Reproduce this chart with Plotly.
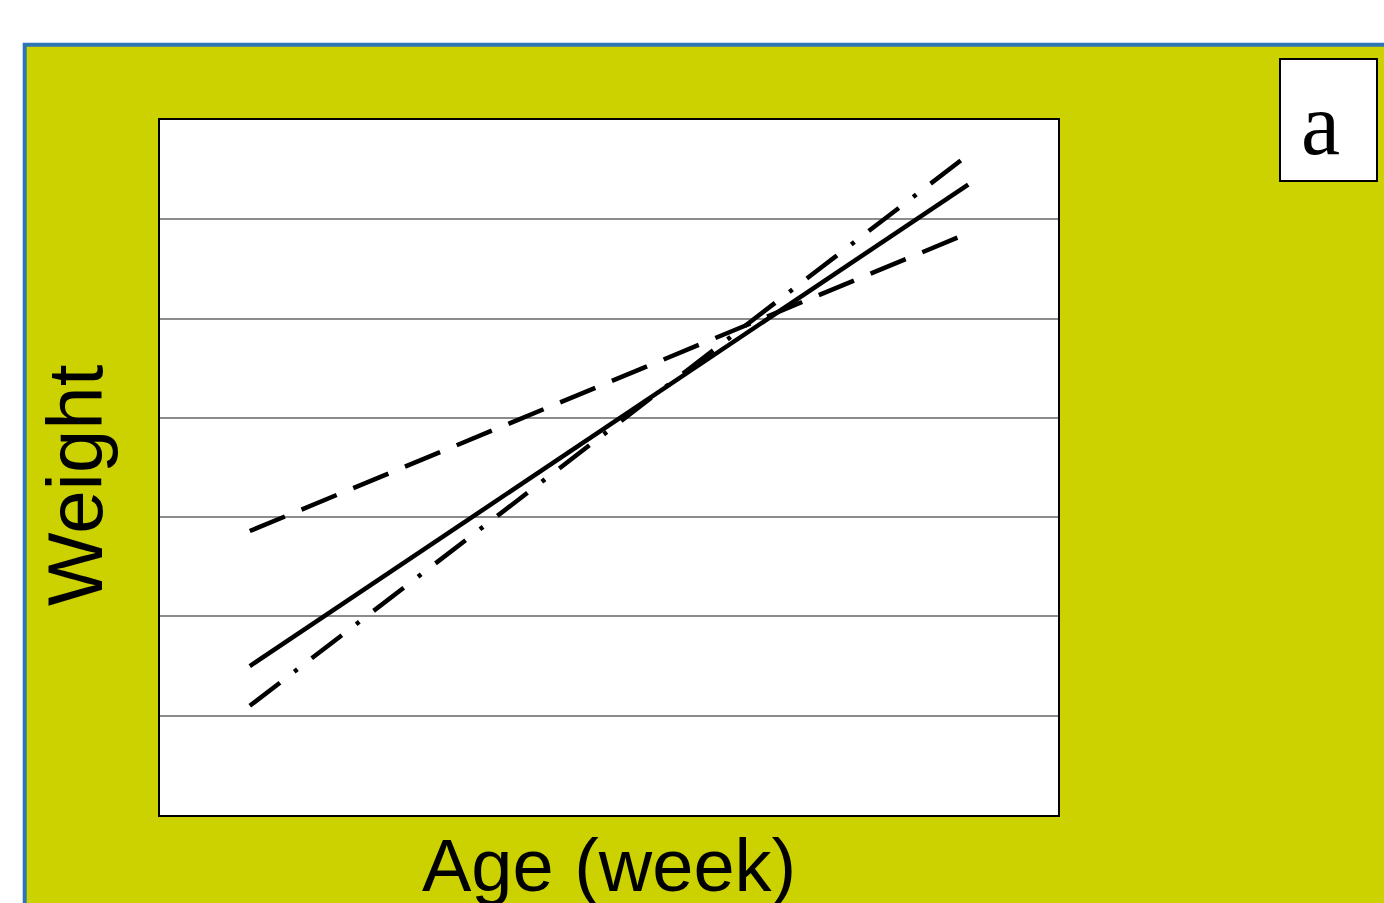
import plotly.graph_objects as go

# Growth curves: weight against age for three fitted models
age = [1, 9]
weight_solid = [1.50, 6.35]
weight_dashed = [2.86, 5.86]
weight_dashdot = [1.10, 6.65]

y_ticks = [1, 2, 3, 4, 5, 6]

W, H = 1384, 903
L, R, T, B = 160, 326, 120, 88
pw, ph = W - L - R, H - T - B


def px_x(p):
    return (p - L) / pw


def px_y(p):
    return (H - B - p) / ph


YELLOW = "#CCD200"
BLUE = "#2E75B6"

fig = go.Figure()

line_style = dict(color="black", width=4.5)
fig.add_trace(go.Scatter(x=age, y=weight_solid, mode="lines",
                         line=dict(**line_style), showlegend=False))
fig.add_trace(go.Scatter(x=age, y=weight_dashed, mode="lines",
                         line=dict(**line_style, dash="38px,18px"), showlegend=False))
fig.add_trace(go.Scatter(x=age, y=weight_dashdot, mode="lines",
                         line=dict(**line_style, dash="38px,18px,4px,18px"), showlegend=False))

shapes = [
    # coloured panel with blue top/left edge
    dict(type="rect", xref="paper", yref="paper", layer="below",
         x0=px_x(24.7), x1=px_x(W + 20), y0=px_y(H + 20), y1=px_y(44.7),
         fillcolor=YELLOW, line=dict(color=BLUE, width=4)),
    # white plotting area
    dict(type="rect", xref="paper", yref="paper", layer="below",
         x0=0, x1=1, y0=0, y1=1, fillcolor="white", line=dict(width=0)),
    # panel label box
    dict(type="rect", xref="paper", yref="paper", layer="above",
         x0=px_x(1280), x1=px_x(1377), y0=px_y(181), y1=px_y(59),
         fillcolor="white", line=dict(color="black", width=2)),
]

annotations = [
    dict(text="a", xref="paper", yref="paper", x=px_x(1320), y=px_y(124),
         xanchor="center", yanchor="middle", showarrow=False,
         font=dict(family="Liberation Serif", size=88, color="black")),
    dict(text="Age (week)", xref="paper", yref="paper", x=px_x(609), y=px_y(866),
         xanchor="center", yanchor="middle", showarrow=False,
         font=dict(family="Liberation Sans", size=74, color="black")),
    dict(text="Weight", xref="paper", yref="paper", x=px_x(75), y=px_y(485),
         xanchor="center", yanchor="middle", showarrow=False, textangle=-90,
         font=dict(family="Liberation Sans", size=78, color="black")),
]

fig.update_layout(
    width=W, height=H,
    margin=dict(l=L, r=R, t=T, b=B),
    paper_bgcolor="white",
    plot_bgcolor="white",
    shapes=shapes,
    annotations=annotations,
    xaxis=dict(range=[0, 10], showgrid=False, zeroline=False,
               showticklabels=False, ticks="",
               showline=True, mirror=True, linecolor="black", linewidth=2),
    yaxis=dict(range=[0, 7], tickvals=y_ticks, showgrid=True,
               gridcolor="#8C8C8C", gridwidth=1.5, zeroline=False,
               showticklabels=False, ticks="",
               showline=True, mirror=True, linecolor="black", linewidth=2),
)

fig.write_html("out.html")
